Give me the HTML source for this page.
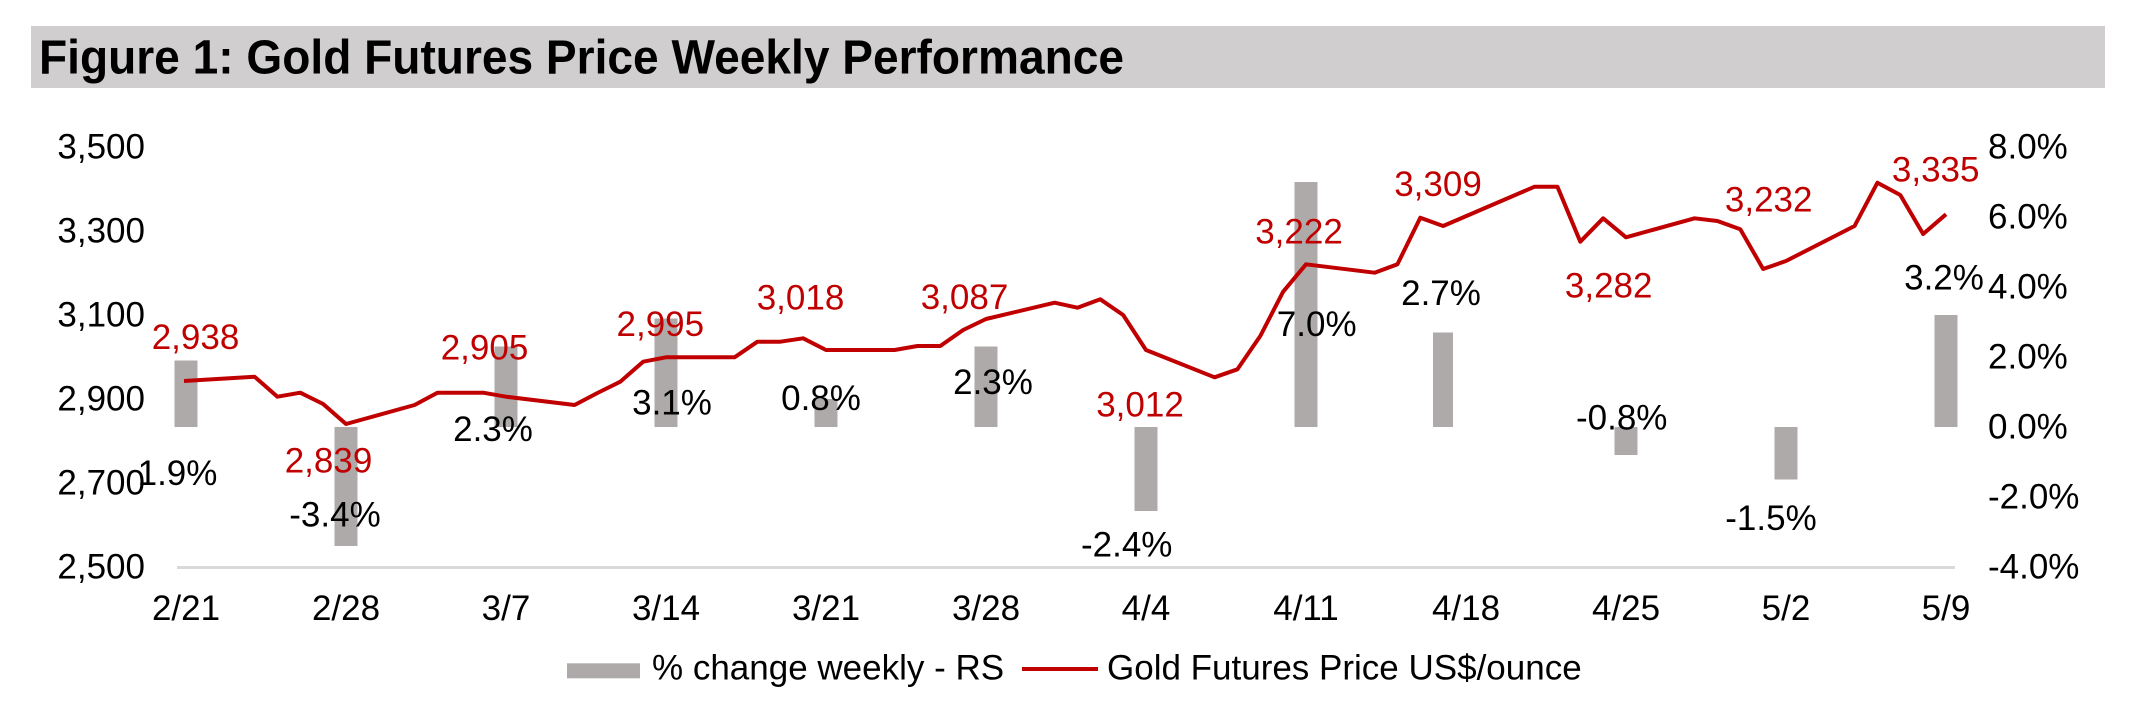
<!DOCTYPE html>
<html>
<head>
<meta charset="utf-8">
<style>
  html, body { margin: 0; padding: 0; background: #ffffff; }
  svg { display: block; }
  text { font-family: "Liberation Sans", Arial, sans-serif; }
</style>
</head>
<body>
<svg width="2136" height="704" viewBox="0 0 2136 704" xmlns="http://www.w3.org/2000/svg">
  <rect x="0" y="0" width="2136" height="704" fill="#ffffff"/>
  <!-- Title bar -->
  <rect x="31" y="26" width="2074" height="62" fill="#D0CECF"/>
  <text x="39" y="73.3" font-size="48" font-weight="bold" fill="#000" textLength="1085" lengthAdjust="spacingAndGlyphs">Figure 1: Gold Futures Price Weekly Performance</text>

  <!-- Left axis labels -->
  <g font-size="35" fill="#000" text-anchor="end">
    <text x="145" y="158.3">3,500</text>
    <text x="145" y="242.3">3,300</text>
    <text x="145" y="326.3">3,100</text>
    <text x="145" y="410.3">2,900</text>
    <text x="145" y="494.3">2,700</text>
    <text x="145" y="578.3">2,500</text>
  </g>

  <!-- Right axis labels -->
  <g font-size="35" fill="#000" text-anchor="start">
    <text x="1988" y="158.3">8.0%</text>
    <text x="1988" y="228.3">6.0%</text>
    <text x="1988" y="298.3">4.0%</text>
    <text x="1988" y="368.3">2.0%</text>
    <text x="1988" y="438.3">0.0%</text>
    <text x="1988" y="508.3">-2.0%</text>
    <text x="1988" y="578.3">-4.0%</text>
  </g>

  <!-- Axis line -->
  <line x1="177" y1="567.5" x2="1955" y2="567.5" stroke="#D9D9D9" stroke-width="3"/>

  <!-- X labels -->
  <g font-size="35" fill="#000" text-anchor="middle">
    <text x="186" y="620">2/21</text>
    <text x="346" y="620">2/28</text>
    <text x="506" y="620">3/7</text>
    <text x="666" y="620">3/14</text>
    <text x="826" y="620">3/21</text>
    <text x="986" y="620">3/28</text>
    <text x="1146" y="620">4/4</text>
    <text x="1306" y="620">4/11</text>
    <text x="1466" y="620">4/18</text>
    <text x="1626" y="620">4/25</text>
    <text x="1786" y="620">5/2</text>
    <text x="1946" y="620">5/9</text>
  </g>

  <!-- Bars (0% at y=427, 35px per 1%) -->
  <g fill="#AEAAAA">
    <rect x="174.5" y="360.5" width="23" height="66.5"/>
    <rect x="334.5" y="427" width="23" height="119"/>
    <rect x="494.5" y="346.5" width="23" height="80.5"/>
    <rect x="654.5" y="318.5" width="23" height="108.5"/>
    <rect x="814.5" y="399" width="23" height="28"/>
    <rect x="974.5" y="346.5" width="23" height="80.5"/>
    <rect x="1134.5" y="427" width="23" height="84"/>
    <rect x="1294.5" y="182" width="23" height="245"/>
    <rect x="1433" y="332.5" width="20" height="94.5"/>
    <rect x="1614.5" y="427" width="23" height="28"/>
    <rect x="1774.5" y="427" width="23" height="52.5"/>
    <rect x="1934.5" y="315" width="23" height="112"/>
  </g>

  <!-- Price line -->
  <polyline fill="none" stroke="#C00000" stroke-width="4" stroke-linejoin="round" stroke-linecap="butt"
    points="
    184,381 254.57,376.7 277.43,396.7 300.29,392.7 323.14,404 346,424
    414.57,405 437.43,392.7 460.29,392.7 483.14,392.7 506,396.7
    574.57,405 597.43,393 620.29,381.7 643.14,361.7 666,357.3
    734.57,357.3 757.43,341.7 780.29,341.7 803.14,338.3 826,350
    894.57,350 917.43,346 940.29,346 963.14,330 986,319
    1054.57,302.7 1077.43,307.7 1100.29,299.3 1123.14,315 1146,350
    1214.57,377.3 1237.43,369.3 1260.29,336 1283.14,291.7 1306,264.3
    1374.57,272.7 1397.43,264.3 1420.29,217.7 1443.14,226
    1534.57,186.7 1557.43,186.7 1580.29,241.7 1603.14,218.3 1626,237.3
    1694.57,218.3 1717.43,221 1740.29,229.3 1763.14,269 1786,261
    1854.57,226 1877.43,182.7 1900.29,195 1923.14,234 1946,214.3"/>

  <!-- Red data labels -->
  <g font-size="35" fill="#C00000" text-anchor="middle">
    <text x="195.5" y="349">2,938</text>
    <text x="328.5" y="472.7">2,839</text>
    <text x="484.5" y="359.3">2,905</text>
    <text x="660.3" y="336">2,995</text>
    <text x="800.5" y="309.3">3,018</text>
    <text x="964.5" y="309">3,087</text>
    <text x="1140" y="416.7">3,012</text>
    <text x="1299" y="243.3">3,222</text>
    <text x="1438" y="196">3,309</text>
    <text x="1608.7" y="297.3">3,282</text>
    <text x="1768.7" y="211.7">3,232</text>
    <text x="1935.7" y="181.7">3,335</text>
  </g>

  <!-- Black % labels -->
  <g font-size="35" fill="#000" text-anchor="middle">
    <text x="177.5" y="485">1.9%</text>
    <text x="335" y="526.7">-3.4%</text>
    <text x="493" y="441">2.3%</text>
    <text x="672" y="414.3">3.1%</text>
    <text x="821" y="410">0.8%</text>
    <text x="993" y="394">2.3%</text>
    <text x="1126.7" y="556.7">-2.4%</text>
    <text x="1316.7" y="336">7.0%</text>
    <text x="1441" y="305">2.7%</text>
    <text x="1621.7" y="429.3">-0.8%</text>
    <text x="1771" y="530">-1.5%</text>
    <text x="1944" y="289.3">3.2%</text>
  </g>

  <!-- Legend -->
  <rect x="567" y="663.3" width="73" height="15" fill="#AEAAAA"/>
  <text x="652" y="679.3" font-size="35" fill="#000">% change weekly - RS</text>
  <line x1="1022" y1="669" x2="1098" y2="669" stroke="#C00000" stroke-width="4"/>
  <text x="1107" y="679.3" font-size="35" fill="#000">Gold Futures Price US$/ounce</text>
</svg>
</body>
</html>
